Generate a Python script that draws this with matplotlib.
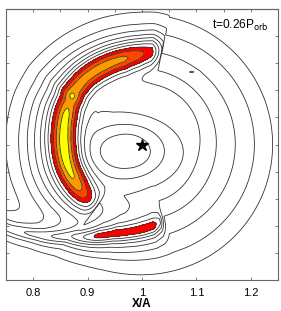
import numpy as np
import matplotlib.pyplot as plt

# disk background level vs distance from the star
disk_r = [0.0, 0.05, 0.08, 0.10, 0.13, 0.165, 0.2, 0.24, 0.28, 0.33]
disk_level = [6.2, 6.1, 5.9, 5.6, 4.3, 3.2, 2.2, 1.0, 0.3, 0.0]

# depression round the star
hole_xy = (0.972, -0.012)
hole_size = (0.085, 0.06)
hole_depth = 4.1

# small closed contour upper right
blob_xy = (1.092, 0.134)
blob_size = (0.008, 0.0025)
blob_height = 0.9

# crescent ridge: angle from star (deg), radius, level on the ridge
arc_theta = [78, 84, 92, 102, 115, 130, 140, 145, 150, 158, 170, 182, 195, 205, 214, 222, 228, 234]
arc_r = [0.176, 0.173, 0.167, 0.163, 0.162, 0.162, 0.160, 0.158, 0.155, 0.151,
         0.146, 0.143, 0.142, 0.141, 0.141, 0.142, 0.143, 0.145]
arc_peak = [5.0, 8.4, 9.4, 10.2, 10.4, 10.4, 10.6, 11.2, 10.7, 11.3,
            11.5, 11.6, 11.4, 11.1, 10.4, 9.3, 7.8, 5.0]
arc_skirt = [0.04, 0.04, 0.04, 0.042, 0.045, 0.05, 0.055, 0.058, 0.06, 0.062,
             0.062, 0.062, 0.062, 0.06, 0.056, 0.05, 0.045, 0.04]

# lower spiral arm
arm_theta = [200, 212, 222, 232, 244, 253, 262, 270, 278, 283, 288]
arm_r = [0.33, 0.29, 0.25, 0.215, 0.188, 0.172, 0.163, 0.157, 0.152, 0.147, 0.142]
arm_peak = [2.5, 3.5, 4.5, 5.8, 8.3, 8.5, 8.5, 8.6, 8.5, 7.2, 3.0]

levels = np.arange(1, 12)
fill_levels = [8, 9, 10, 11, 20]
fill_colors = ['#ff0000', '#ff4400', '#ff9900', '#ffff00']


def base(x, y):
    r = np.hypot(x - 1, y)
    b = np.interp(r, disk_r, disk_level)
    q = ((x - hole_xy[0]) / hole_size[0]) ** 2 + ((y - hole_xy[1]) / hole_size[1]) ** 2
    return b - hole_depth * np.exp(-q)


def ridge(x, y, th_tab, r_tab, peak_tab):
    th = np.degrees(np.arctan2(y, x - 1)) % 360
    r = np.hypot(x - 1, y)
    R = np.interp(th, th_tab, r_tab)
    P = np.interp(th, th_tab, peak_tab, left=0, right=0)
    rad = np.radians(th)
    A = np.clip(P - base(1 + R * np.cos(rad), R * np.sin(rad)), 0, None)
    A[(th < th_tab[0]) | (th > th_tab[-1])] = 0
    return th, r - R, A


x = np.linspace(0.75, 1.25, 500)
y = np.linspace(-0.25, 0.25, 500)
X, Y = np.meshgrid(x, y)
Z = base(X, Y)

th, d, A = ridge(X, Y, arc_theta, arc_r, arc_peak)
W = np.interp(th, arc_theta, arc_skirt)
inner = A * np.exp(-(d / 0.028) ** 2)
outer = A * (0.55 * np.exp(-(d / 0.025) ** 2) + 0.45 * np.exp(-(d / W) ** 2))
Z = Z + np.where(d < 0, inner, outer)

th2, d2, A2 = ridge(X, Y, arm_theta, arm_r, arm_peak)
Z = Z + A2 * (0.45 * np.exp(-(d2 / 0.014) ** 2) + 0.55 * np.exp(-(d2 / 0.034) ** 2))

Z = Z + blob_height * np.exp(-((X - blob_xy[0]) / blob_size[0]) ** 2
                             - ((Y - blob_xy[1]) / blob_size[1]) ** 2)

plt.rcParams['font.family'] = ['Liberation Sans', 'DejaVu Sans']
fig = plt.figure(figsize=(2.81, 3.11), dpi=100)
ax = fig.add_axes([6 / 281, 31 / 311, 272 / 281, 271 / 311])

ax.contourf(X, Y, Z, levels=fill_levels, colors=fill_colors)
ax.contour(X, Y, Z, levels=levels, colors='#333333', linewidths=0.6)
ax.plot([1.0], [0.0], marker='*', color='black', markersize=9)

ax.text(1.128, 0.213, 't=0.26P$_{\\mathrm{orb}}$', fontsize=8.6)

ax.set_xlim(0.75, 1.25)
ax.set_ylim(-0.25, 0.25)
ax.set_xticks([0.8, 0.9, 1.0, 1.1, 1.2])
ax.set_xticklabels(['0.8', '0.9', '1', '1.1', '1.2'])
ax.set_yticks(np.arange(-0.2, 0.21, 0.05))
ax.set_yticklabels([])
ax.tick_params(direction='in', length=2, width=0.6, labelsize=8, pad=6,
               right=True, color='#666666')
sec = ax.secondary_xaxis('top')
sec.set_xticks(np.arange(0.8, 1.21, 0.05))
sec.set_xticklabels([])
sec.tick_params(direction='in', length=2, width=0.6, color='#666666')
for s in list(ax.spines.values()) + list(sec.spines.values()):
    s.set_color('#666666')
    s.set_linewidth(0.8)
ax.set_xlabel('X/A', fontsize=8.5, fontweight='bold', labelpad=0)

fig.savefig('out.png', dpi=100)
